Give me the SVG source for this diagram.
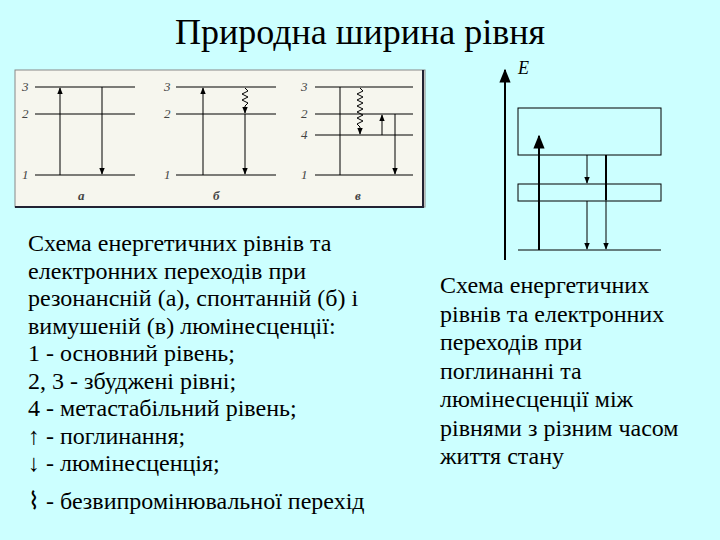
<svg xmlns="http://www.w3.org/2000/svg" width="720" height="540" viewBox="0 0 720 540">
<defs>
<marker id="ah" viewBox="0 0 10 10" refX="9" refY="5" markerWidth="7" markerHeight="7" orient="auto"><path d="M0,1 L10,5 L0,9 Z" fill="#000"/></marker>
<style>
.l{stroke:#000;stroke-width:1;fill:none}
.n{font-family:"Liberation Serif",serif;font-style:italic;font-size:13px;fill:#444}
</style>
</defs>
<rect width="720" height="540" fill="#ccffff"/>
<text font-family="Liberation Serif, serif" x="360" y="44" font-size="36" text-anchor="middle">Природна ширина рівня</text>
<g id="figure-left">
<rect x="15" y="70" width="410" height="137" fill="#f6f6ee" stroke="#888" stroke-width="1"/>
<path d="M423,70 V207 H15" stroke="#223" stroke-width="2" fill="none"/>
<g id="panel-a">
<path class="l" d="M35,87 H135 M35,114 H135 M35,175 H135"/>
<text class="n" x="22" y="91">3</text><text class="n" x="22" y="118">2</text><text class="n" x="22" y="179">1</text>
<line class="l" x1="60" y1="175" x2="60" y2="88" marker-end="url(#ah)"/>
<line class="l" x1="102" y1="87" x2="102" y2="174" marker-end="url(#ah)"/>
<text class="n" x="78" y="200" font-weight="bold">а</text>
</g>
<g id="panel-b">
<path class="l" d="M176,87 H276 M176,114 H276 M176,175 H276"/>
<text class="n" x="164" y="91">3</text><text class="n" x="164" y="118">2</text><text class="n" x="164" y="179">1</text>
<line class="l" x1="203" y1="175" x2="203" y2="88" marker-end="url(#ah)"/>
<path class="l" d="M245,88 l3,3 l-6,3 l6,3 l-6,3 l6,3 l-3,3 V113" marker-end="url(#ah)"/>
<line class="l" x1="245" y1="114" x2="245" y2="174" marker-end="url(#ah)"/>
<text class="n" x="213" y="200" font-weight="bold">б</text>
</g>
<g id="panel-v">
<path class="l" d="M315,87 H413 M315,114 H413 M315,135 H413 M315,175 H413"/>
<text class="n" x="301" y="91">3</text><text class="n" x="301" y="118">2</text><text class="n" x="301" y="139">4</text><text class="n" x="301" y="179">1</text>
<line class="l" x1="340" y1="87" x2="340" y2="175"/>
<path class="l" d="M360,88 l3,3 l-6,3 l6,3 l-6,3 l6,3 l-6,3 l6,3 l-6,3 l6,3 l-6,3 l6,3 l-6,3 l3,3 V134" marker-end="url(#ah)"/>
<line class="l" x1="382" y1="135" x2="382" y2="115" marker-end="url(#ah)"/>
<line class="l" x1="395" y1="114" x2="395" y2="174" marker-end="url(#ah)"/>
<text class="n" x="355" y="200" font-weight="bold">в</text>
</g>
</g>
<g id="figure-right">
<line x1="505" y1="260" x2="505" y2="70" stroke="#000" stroke-width="2" marker-end="url(#ah)"/>
<text x="518" y="74" font-family="Liberation Serif,serif" font-style="italic" font-size="18">E</text>
<rect x="518" y="108" width="143" height="47" fill="none" stroke="#000"/>
<rect x="518" y="184" width="143" height="17" fill="none" stroke="#000"/>
<line class="l" x1="518" y1="250" x2="661" y2="250"/>
<line x1="539" y1="250" x2="539" y2="136" stroke="#000" stroke-width="2" marker-end="url(#ah)"/>
<line class="l" x1="587" y1="155" x2="587" y2="183" marker-end="url(#ah)"/>
<line class="l" x1="587" y1="201" x2="587" y2="249" marker-end="url(#ah)"/>
<line x1="606" y1="155" x2="606" y2="200" stroke="#000" stroke-width="2"/>
<line class="l" x1="606" y1="200" x2="606" y2="249" marker-end="url(#ah)"/>
</g>
<g font-family="Liberation Serif, serif" font-size="24">
<text x="28" y="251">Схема енергетичних рівнів та</text>
<text x="28" y="279">електронних переходів при</text>
<text x="28" y="306">резонансній (а), спонтанній (б) і</text>
<text x="28" y="334">вимушеній (в) люмінесценції:</text>
<text x="28" y="361">1 - основний рівень;</text>
<text x="28" y="389">2, 3 - збуджені рівні;</text>
<text x="28" y="416">4 - метастабільний рівень;</text>
<text x="28" y="444">↑ - поглинання;</text>
<text x="28" y="471">↓ - люмінесценція;</text>
<text x="28" y="509">⌇ - безвипромінювальної перехід</text>
</g>
<g font-family="Liberation Serif, serif" font-size="24">
<text x="440" y="293">Схема енергетичних</text>
<text x="440" y="322">рівнів та електронних</text>
<text x="440" y="350">переходів при</text>
<text x="440" y="379">поглинанні та</text>
<text x="440" y="407">люмінесценції між</text>
<text x="440" y="436">рівнями з різним часом</text>
<text x="440" y="464">життя стану</text>
</g>
</svg>
